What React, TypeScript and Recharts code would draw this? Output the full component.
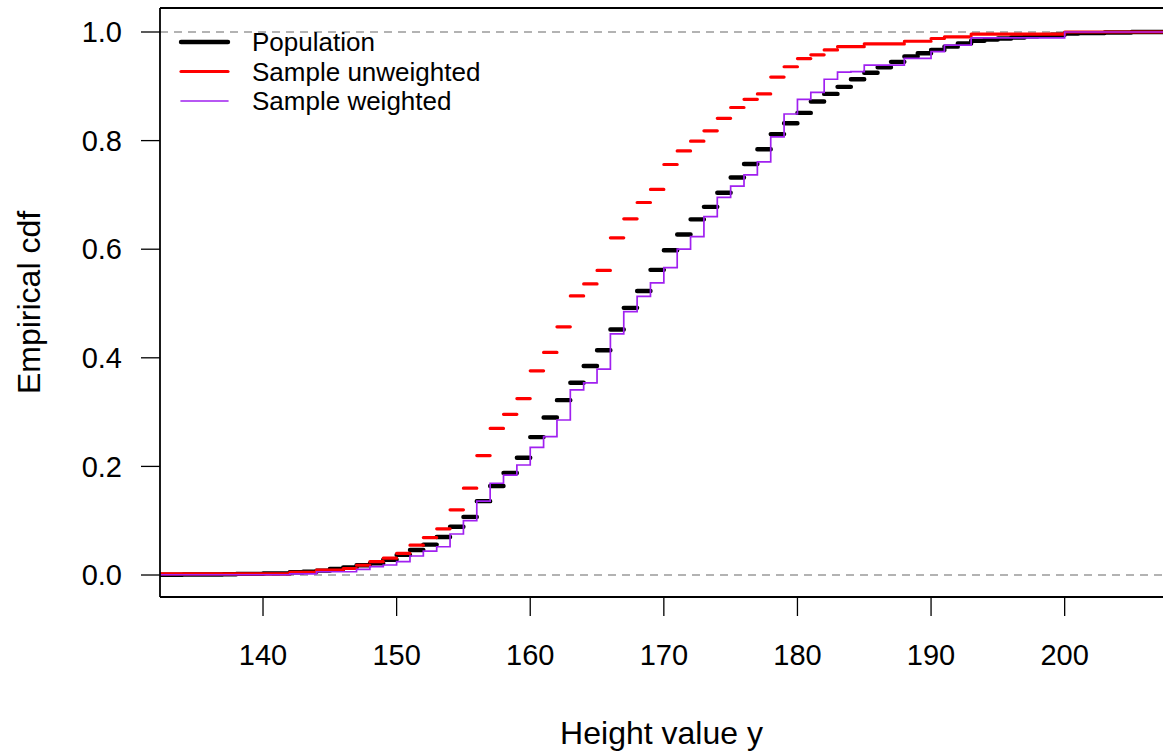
import { LineChart, Line, XAxis, YAxis, ReferenceLine, Legend, Label } from 'recharts'

// integer heights where the empirical cdfs jump
const heights = [
  131, 132, 133, 134, 135, 136, 137, 138, 139, 140,
  141, 142, 143, 144, 145, 146, 147, 148, 149, 150,
  151, 152, 153, 154, 155, 156, 157, 158, 159, 160,
  161, 162, 163, 164, 165, 166, 167, 168, 169, 170,
  171, 172, 173, 174, 175, 176, 177, 178, 179, 180,
  181, 182, 183, 184, 185, 186, 187, 188, 189, 190,
  191, 192, 193, 194, 195, 196, 197, 198, 199, 200,
  201, 202, 203, 204, 205, 206, 207,
]

const populationCdf = [
  0, 0.0005, 0.0005, 0.001, 0.001, 0.001, 0.0015, 0.002, 0.002, 0.003,
  0.003, 0.005, 0.006, 0.008, 0.011, 0.014, 0.018, 0.0215, 0.028, 0.037,
  0.046, 0.056, 0.07, 0.089, 0.107, 0.136, 0.164, 0.188, 0.216, 0.254,
  0.29, 0.322, 0.354, 0.385, 0.414, 0.452, 0.492, 0.523, 0.562, 0.598,
  0.627, 0.655, 0.678, 0.704, 0.732, 0.757, 0.784, 0.812, 0.832, 0.851,
  0.872, 0.886, 0.899, 0.913, 0.925, 0.935, 0.945, 0.955, 0.961, 0.967,
  0.973, 0.979, 0.984, 0.986, 0.988, 0.99, 0.992, 0.994, 0.995, 0.997,
  0.998, 0.998, 0.999, 0.999, 1, 1, 1,
]

const unweightedCdf = [
  0, 0.002, 0.002, 0.002, 0.002, 0.002, 0.002, 0.002, 0.002, 0.002,
  0.002, 0.005, 0.005, 0.009, 0.009, 0.012, 0.018, 0.0245, 0.031, 0.04,
  0.055, 0.069, 0.085, 0.12, 0.16, 0.22, 0.27, 0.296, 0.325, 0.376,
  0.41, 0.457, 0.514, 0.536, 0.561, 0.621, 0.656, 0.686, 0.71, 0.756,
  0.781, 0.799, 0.818, 0.841, 0.861, 0.876, 0.886, 0.917, 0.936, 0.951,
  0.958, 0.967, 0.973, 0.973, 0.978, 0.978, 0.978, 0.983, 0.983, 0.988,
  0.991, 0.991, 0.996, 0.996, 0.996, 0.996, 0.996, 0.996, 0.996, 1,
  1, 1, 1, 1, 1, 1, 1,
]

const weightedCdf = [
  0, 0.0005, 0.0005, 0.0005, 0.0005, 0.0005, 0.0005, 0.0005, 0.0005, 0.0005,
  0.0005, 0.002, 0.002, 0.006, 0.006, 0.006, 0.0104, 0.0153, 0.0184, 0.0245,
  0.035, 0.044, 0.052, 0.0755, 0.1, 0.136, 0.169, 0.184, 0.2026, 0.235,
  0.255, 0.2855, 0.341, 0.354, 0.379, 0.444, 0.485, 0.513, 0.538, 0.566,
  0.6, 0.623, 0.66, 0.6955, 0.716, 0.737, 0.761, 0.807, 0.849, 0.876,
  0.889, 0.913, 0.926, 0.927, 0.939, 0.939, 0.939, 0.9515, 0.9515, 0.964,
  0.976, 0.976, 0.989, 0.989, 0.989, 0.989, 0.989, 0.989, 0.989, 1,
  1, 1, 1, 1, 1, 1, 1,
]

const xTicks = [140, 150, 160, 170, 180, 190, 200]
const yTicks = [0, 0.2, 0.4, 0.6, 0.8, 1]
const xDomain = [132.29, 207.36]
const yDomain = [-0.0405, 1.0442]

const legendItems = [
  { name: 'Population', color: '#000000', width: 4.4 },
  { name: 'Sample unweighted', color: '#ff0000', width: 3.2 },
  { name: 'Sample weighted', color: '#a020f0', width: 1.6 },
]

const font = 'Liberation Sans, Arial, sans-serif'

// horizontal pieces only (verticals = FALSE), broken by null points
function toSegments(vals: number[]) {
  return heights.flatMap((h, i) => {
    const next = i < heights.length - 1 ? heights[i + 1] : h + 1
    return [
      { x: h, y: vals[i] },
      { x: next, y: vals[i] },
      { x: next, y: null },
    ]
  })
}

function toSteps(vals: number[]) {
  const pts = heights.map((h, i) => ({ x: h, y: vals[i] }))
  pts.push({ x: heights[heights.length - 1] + 1, y: vals[vals.length - 1] })
  return pts
}

function LegendBox() {
  return (
    <svg width={340} height={110} style={{ overflow: 'visible' }}>
      {legendItems.map((it, i) => {
        const y = 22 + i * 29.5
        return (
          <g key={it.name}>
            <line x1={3} x2={50} y1={y} y2={y} stroke={it.color} strokeWidth={it.width} strokeLinecap="round" />
            <text x={74} y={y} dy="0.36em" fontSize={26} fontFamily={font} fill="#000">
              {it.name}
            </text>
          </g>
        )
      })}
    </svg>
  )
}

export default function App() {
  return (
    <div style={{ position: 'absolute', left: 0, top: 0, width: 1163, height: 751, overflow: 'hidden', background: '#fff' }}>
      <LineChart width={1163} height={751} margin={{ top: 8, right: 0, bottom: 0, left: 0 }}>
        <XAxis
          type="number"
          dataKey="x"
          domain={xDomain}
          allowDataOverflow
          ticks={xTicks}
          height={154}
          tickSize={19}
          tickMargin={28}
          axisLine={{ stroke: '#000', strokeWidth: 1.8 }}
          tickLine={{ stroke: '#000', strokeWidth: 1.3 }}
          tick={{ fill: '#000', fontSize: 29, fontFamily: font }}
        >
          <Label value="Height value y" position="insideBottom" offset={7} fill="#000" fontSize={32} fontFamily={font} />
        </XAxis>
        <YAxis
          type="number"
          domain={yDomain}
          allowDataOverflow
          ticks={yTicks}
          width={160}
          tickSize={19}
          tickMargin={19}
          tickFormatter={(v: number) => v.toFixed(1)}
          axisLine={{ stroke: '#000', strokeWidth: 1.8 }}
          tickLine={{ stroke: '#000', strokeWidth: 1.3 }}
          tick={{ fill: '#000', fontSize: 29, fontFamily: font }}
        >
          <Label value="Empirical cdf" angle={-90} position="insideLeft" offset={29} textAnchor="middle" fill="#000" fontSize={32} fontFamily={font} />
        </YAxis>
        <ReferenceLine y={yDomain[1]} stroke="#000" strokeWidth={1.8} ifOverflow="visible" />
        <ReferenceLine y={0} stroke="#b3b3b3" strokeWidth={1.8} strokeDasharray="8 6" />
        <ReferenceLine y={1} stroke="#b3b3b3" strokeWidth={1.8} strokeDasharray="8 6" />
        <Line
          data={toSegments(populationCdf)}
          dataKey="y"
          name="Population"
          type="linear"
          stroke="#000000"
          strokeWidth={4.4}
          strokeLinecap="round"
          dot={false}
          activeDot={false}
          connectNulls={false}
          isAnimationActive={false}
        />
        <Line
          data={toSegments(unweightedCdf)}
          dataKey="y"
          name="Sample unweighted"
          type="linear"
          stroke="#ff0000"
          strokeWidth={3.2}
          strokeLinecap="round"
          dot={false}
          activeDot={false}
          connectNulls={false}
          isAnimationActive={false}
        />
        <Line
          data={toSteps(weightedCdf)}
          dataKey="y"
          name="Sample weighted"
          type="stepAfter"
          stroke="#a020f0"
          strokeWidth={1.7}
          dot={false}
          activeDot={false}
          isAnimationActive={false}
        />
        <Legend
          layout="horizontal"
          verticalAlign="middle"
          align="center"
          content={<LegendBox />}
          wrapperStyle={{ left: 178, top: 20, width: 340 }}
        />
      </LineChart>
    </div>
  )
}
